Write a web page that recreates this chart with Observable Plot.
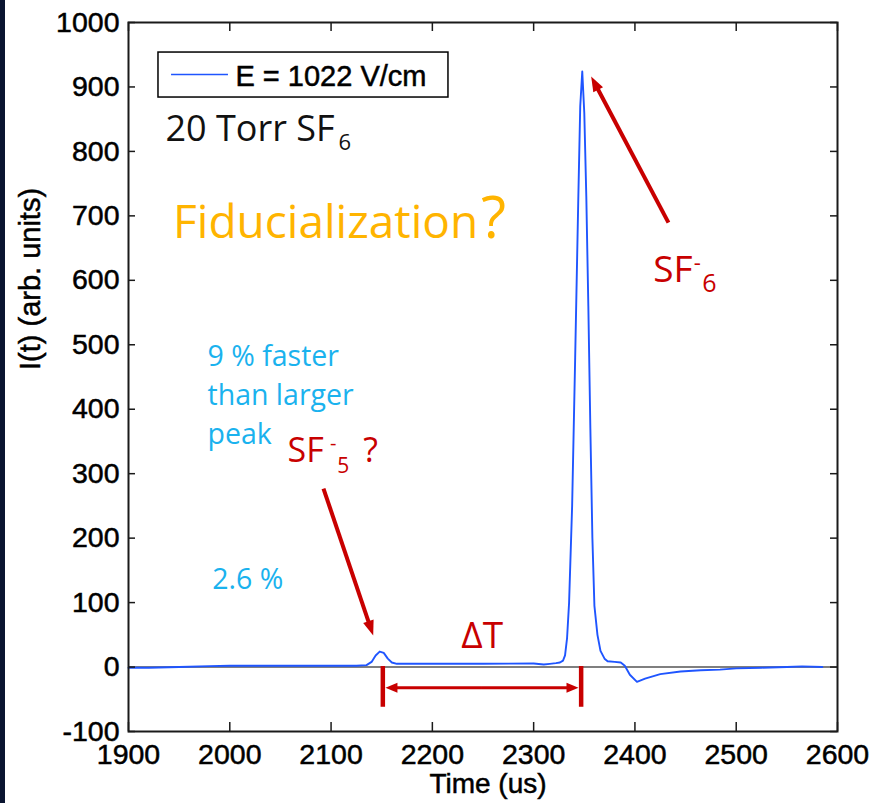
<!DOCTYPE html>
<html><head><meta charset="utf-8">
<script src="https://cdn.jsdelivr.net/npm/d3@7"></script>
<script src="https://cdn.jsdelivr.net/npm/@observablehq/plot@0.6"></script>
<style>
html,body{margin:0;padding:0;background:#fff;}
#wrap{position:relative;width:874px;height:803px;overflow:hidden;background:#fff;}
#strip{position:absolute;left:0;top:0;width:5px;height:803px;background:#0a1430;}
#chart{position:absolute;left:0;top:0;}
#chart g[aria-label$="tick label"] text, #chart .heavy text{stroke:#000;stroke-width:0.5px;}
</style></head><body><div id="wrap"><div id="strip"></div><div id="chart"></div></div>
<script>
// ---- data ----
const time = [1900,1920,1950,1980,2000,2050,2100,2125,2135,2140,2144,2148,2152,2156,2160,2165,2200,2250,2300,2310,2316,2322,2326,2329,2331,2333,2335,2338,2341,2344,2346,2348,2350,2352,2354,2356,2358,2360,2363,2366,2370,2373,2380,2386,2390,2395,2402,2410,2425,2445,2465,2484,2500,2525,2550,2565,2585];
const intensity = [-1,-1,0,1.5,2,2,2,2,3,8,18,24,22,13,7,5,5,5,5.5,4,5,6,7,10,18,45,100,250,480,720,870,924,860,730,560,370,200,95,50,25,13,9,8,7,2,-12,-23,-18,-11,-7,-5,-4,-2,-1,0,1,0];
const xTicks = [1900,2000,2100,2200,2300,2400,2500,2600];
const yTicks = [-100,0,100,200,300,400,500,600,700,800,900,1000];
const seriesLabel = "E = 1022 V/cm";
const xLabel = "Time (us)";
const yLabel = "I(t) (arb. units)";

const data = time.map((t, i) => ({t, v: intensity[i]}));

// ---- layout ----
const W = 874, H = 803, mL = 128, mR = 37, mT = 22, mB = 72;
const innerW = W - mL - mR, innerH = H - mT - mB;
const xDom = [1900, 2600], yDom = [-100, 1000];
const kx = innerW / (xDom[1] - xDom[0]), ky = innerH / (yDom[1] - yDom[0]);
const red = "#c80000", cyan = "#1ab2ee", orange = "#ffb400", blue = "#1f55ff";
const sans = "'Liberation Sans', Arial, sans-serif";
const ui = "'Open Sans', 'Noto Sans', sans-serif";

// arrowhead symbol: tip at origin, pointing up
const head = (L, w) => ({draw(ctx) { ctx.moveTo(0, 0); ctx.lineTo(-w / 2, L); ctx.lineTo(w / 2, L); ctx.closePath(); }});
function arrowMarks(a, sw, L, w) {
  const dxp = (a.x2 - a.x1) * kx, dyp = -(a.y2 - a.y1) * ky;
  const len = Math.hypot(dxp, dyp);
  const ang = Math.atan2(dxp, -dyp) * 180 / Math.PI;
  const f = 1 - (L * 0.7) / len;
  const s = {x1: a.x1, y1: a.y1, x2: a.x1 + (a.x2 - a.x1) * f, y2: a.y1 + (a.y2 - a.y1) * f};
  return [
    Plot.link([s], {x1: "x1", y1: "y1", x2: "x2", y2: "y2", stroke: red, strokeWidth: sw}),
    Plot.dot([a], {x: "x2", y: "y2", symbol: head(L, w), fill: red, stroke: "none", r: 5, rotate: ang})
  ];
}

const notes = [
  {t: 1936.5, v: 816.9, s: "20 Torr SF", size: 36, color: "#111"},
  {t: 2107.3, v: 802.9, s: "6", size: 22, color: "#111"},
  {t: 1944.0, v: 666.4, s: "Fiducialization", size: 46, color: orange},
  {t: 2248.0, v: 666.4, s: "?", size: 58, color: orange},
  {t: 2418.0, v: 597.0, s: "SF", size: 37, color: red},
  {t: 2458.0, v: 616.0, s: "-", size: 22, color: red},
  {t: 2466.5, v: 582.6, s: "6", size: 25, color: red},
  {t: 2057.0, v: 317.7, s: "SF", size: 34, color: red},
  {t: 2099.0, v: 336.0, s: "-", size: 20, color: red},
  {t: 2106.0, v: 301.8, s: "5", size: 21, color: red},
  {t: 2131.7, v: 317.7, s: "?", size: 34, color: red},
  {t: 2228.5, v: 29.8, s: "\u0394T", size: 37, color: red},
  {t: 1982.6, v: 121.8, s: "2.6 %", size: 28.5, color: cyan}
];

const chart = Plot.plot({
  width: W, height: H, marginLeft: mL, marginRight: mR, marginTop: mT, marginBottom: mB,
  x: {domain: xDom}, y: {domain: yDom},
  style: {background: "transparent", fontFamily: sans, overflow: "visible", color: "#000"},
  marks: [
    Plot.ruleY([0], {stroke: "#555", strokeWidth: 1.5}),
    Plot.line(data, {x: "t", y: "v", stroke: blue, strokeWidth: 1.9}),
    Plot.frame({stroke: "#1a1a1a", strokeWidth: 2}),
    Plot.ruleX(xTicks, {stroke: "#1a1a1a", strokeWidth: 1.5, insetTop: innerH - 9}),
    Plot.ruleX(xTicks, {stroke: "#1a1a1a", strokeWidth: 1.5, insetBottom: innerH - 9}),
    Plot.ruleY(yTicks, {stroke: "#1a1a1a", strokeWidth: 1.5, insetRight: innerW - 7}),
    Plot.ruleY(yTicks, {stroke: "#1a1a1a", strokeWidth: 1.5, insetLeft: innerW - 7}),
    Plot.axisX(xTicks, {tickSize: 0, tickPadding: 12, fontSize: 28.5, label: null, tickFormat: d => String(d), fill: "#000"}),
    Plot.axisY(yTicks, {tickSize: 0, tickPadding: 9, fontSize: 28.5, label: null, tickFormat: d => String(d), fill: "#000"}),
    Plot.text([xLabel], {text: d => d, frameAnchor: "bottom", lineAnchor: "top", dy: 42, dx: 5, fontSize: 28, fill: "#000", className: "heavy"}),
    Plot.text([yLabel], {text: d => d, frameAnchor: "left", rotate: -90, dx: -98, dy: -7, fontSize: 29, fill: "#000", className: "heavy"}),
    // legend
    Plot.rect([0], {x1: 1929.6, x2: 2215.9, y1: 883.6, y2: 953.4, fill: "white", stroke: "#000", strokeWidth: 1.5}),
    Plot.ruleY([919.3], {x1: 1942.5, x2: 1998.7, stroke: blue, strokeWidth: 1.5}),
    Plot.text([seriesLabel], {text: d => d, x: 2005.6, y: 902.2, textAnchor: "start", lineAnchor: "bottom", fontSize: 29, fill: "#000", className: "heavy"}),
    // annotations
    ...notes.map(n => Plot.text([n], {x: "t", y: "v", text: "s", fontSize: n.size, fill: n.color, textAnchor: "start", lineAnchor: "bottom", fontFamily: ui})),
    Plot.text(["9 % faster\nthan larger\npeak"], {text: d => d, x: 1978.0, y: 346.8, textAnchor: "start", lineAnchor: "bottom", lineHeight: 1.364, fontSize: 28.5, fill: cyan, fontFamily: ui}),
    ...arrowMarks({x1: 2433.1, y1: 689.6, x2: 2356.8, y2: 916.2}, 4, 15, 11),
    ...arrowMarks({x1: 2092.5, y1: 276.9, x2: 2141.6, y2: 48.9}, 4, 15, 11),
    Plot.ruleX([2151.1, 2346.9], {y1: 0.8, y2: -62.4, stroke: red, strokeWidth: 4.5}),
    ...arrowMarks({x1: 2249, y1: -32.3, x2: 2153.7, y2: -32.3}, 3, 12, 10),
    ...arrowMarks({x1: 2249, y1: -32.3, x2: 2344.3, y2: -32.3}, 3, 12, 10)
  ]
});
document.getElementById("chart").appendChild(chart);
</script></body></html>
